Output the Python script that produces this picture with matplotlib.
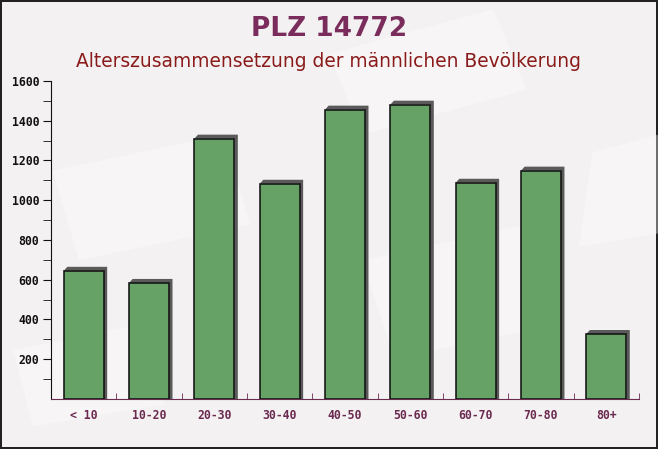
import matplotlib.pyplot as plt
import numpy as np
from matplotlib.patches import Polygon

categories = ["< 10", "10-20", "20-30", "30-40", "40-50", "50-60", "60-70", "70-80", "80+"]
values = [645, 584, 1310, 1083, 1456, 1481, 1088, 1149, 327]
yticks = [200, 400, 600, 800, 1000, 1200, 1400, 1600]

fig = plt.figure(figsize=(6.58, 4.49), dpi=100)
fig.patch.set_facecolor("#f3f1f1")
fig.patch.set_edgecolor("#222222")
fig.patch.set_linewidth(1.5)

# faint background shapes
bg = fig.add_axes([0, 0, 1, 1], zorder=-5)
bg.set_xlim(0, 1)
bg.set_ylim(0, 1)
bg.axis("off")
shapes = [
    [(0.12, 0.42), (0.38, 0.50), (0.34, 0.70), (0.08, 0.62)],
    [(0.55, 0.70), (0.80, 0.80), (0.75, 0.98), (0.50, 0.88)],
    [(0.60, 0.20), (0.85, 0.28), (0.80, 0.50), (0.55, 0.42)],
    [(0.05, 0.05), (0.25, 0.10), (0.22, 0.28), (0.02, 0.22)],
    [(0.88, 0.45), (1.00, 0.48), (1.00, 0.70), (0.90, 0.66)],
]
for s in shapes:
    bg.add_patch(Polygon(s, closed=True, facecolor="white", alpha=0.35, edgecolor="none"))

ax = fig.add_axes([0.0775, 0.1114, 0.8935, 0.7082])
ax.set_facecolor("none")
x = np.arange(len(categories))
w = 0.61
dx = 0.055
dy = 20

# shadow behind each bar (bevelled top-left)
for xi, v in zip(x, values):
    xl, xr = xi - w / 2, xi + w / 2
    pts = [(xl, v), (xl + dx, v + dy), (xr + dx, v + dy), (xr + dx, 0), (xr, 0), (xr, v)]
    ax.add_patch(Polygon(pts, closed=True, facecolor="#5a5a5a", edgecolor="none", zorder=2))

ax.bar(x, values, width=w, color="#5e9e5e", edgecolor="#111111", linewidth=1.2, alpha=0.95, zorder=3)

ax.set_xlim(-0.5, len(categories) - 0.5)
ax.set_ylim(0, 1600)
ax.set_yticks(yticks)
ax.set_yticks(np.arange(100, 1600, 200), minor=True)
ax.set_xticks(x)
ax.set_xticklabels(categories)
ax.set_xticks(np.arange(-0.5, len(categories), 1), minor=True)

for sp in ["top", "right"]:
    ax.spines[sp].set_visible(False)
ax.spines["left"].set_color("#111111")
ax.spines["bottom"].set_color("#6b2a50")

ax.tick_params(axis="y", which="both", direction="out", length=6, color="#111111",
               labelsize=8.3, labelcolor="#111111", pad=2.5)
ax.tick_params(axis="x", which="major", length=0, pad=7, labelsize=8.3, labelcolor="#6b2a50")
ax.tick_params(axis="x", which="minor", direction="in", length=4, color="#6b2a50")
for lab in ax.get_xticklabels() + ax.get_yticklabels():
    lab.set_family("DejaVu Sans Mono")
    lab.set_fontweight("bold")

fig.text(0.5, 0.935, "PLZ 14772", ha="center", va="center", fontsize=19,
         fontweight="bold", color="#7a2d5c", family="DejaVu Sans")
fig.text(0.5, 0.862, "Alterszusammensetzung der männlichen Bevölkerung", ha="center",
         va="center", fontsize=13.4, color="#8b1a1a", family="DejaVu Sans")

fig.savefig("out.png", dpi=100, facecolor=fig.get_facecolor(), edgecolor=fig.get_edgecolor())
